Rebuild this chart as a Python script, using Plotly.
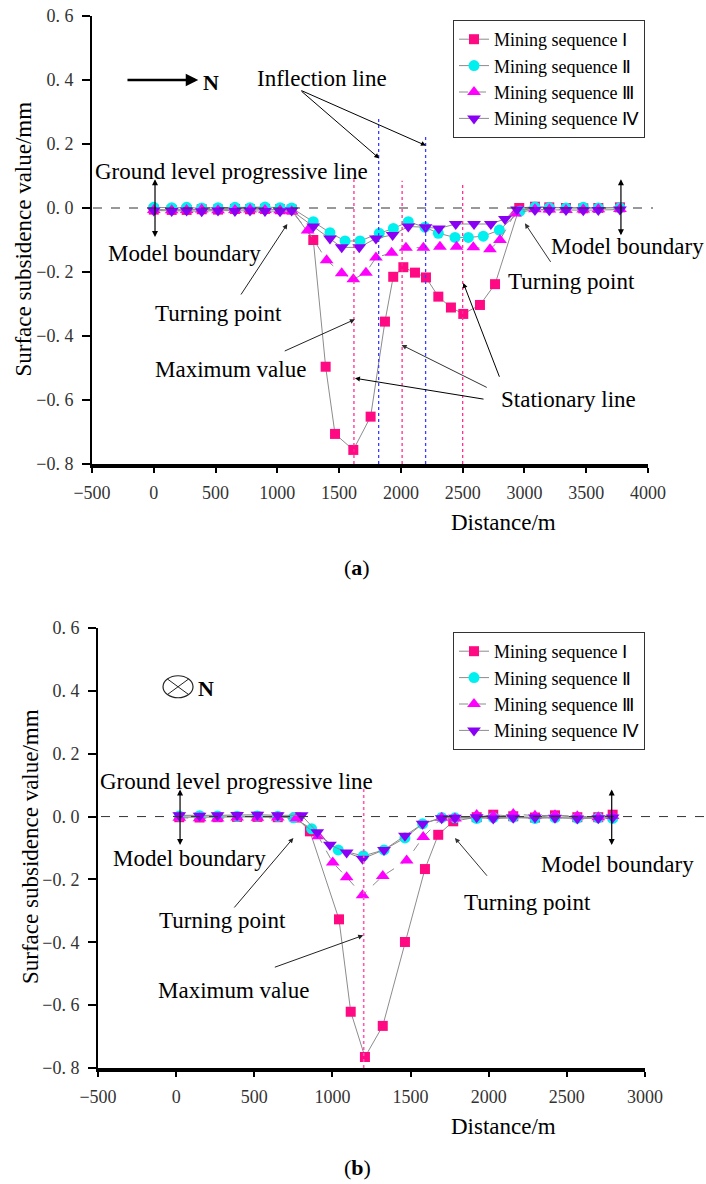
import plotly.graph_objects as go

FONT = "Liberation Serif, Times New Roman, Tinos, serif"
W, H = 706, 1184

# ---------------- data : chart (a) ----------------
series_names = ["Mining sequence \u2160", "Mining sequence \u2161",
                "Mining sequence \u2162", "Mining sequence \u2163"]

a_I_x = [0, 145, 266, 388, 520, 657, 779, 900, 1022, 1116, 1291, 1391, 1467, 1615, 1755, 1871,
         1938, 2020, 2114, 2203, 2303, 2405, 2505, 2640, 2762, 2958, 3085, 3201, 3336, 3476, 3598, 3773]
a_I_y = [-0.005, -0.006, -0.006, -0.004, -0.005, -0.003, -0.004, -0.003, -0.004, -0.005, -0.100, -0.496,
         -0.706, -0.756, -0.652, -0.355, -0.215, -0.185, -0.202, -0.217, -0.277, -0.311, -0.331, -0.303,
         -0.238, 0.000, 0.004, 0.002, 0.000, -0.001, 0.000, 0.002]

a_II_x = [0, 145, 266, 388, 520, 657, 779, 900, 1022, 1116, 1291, 1426, 1548, 1669, 1825, 1939, 2060,
          2195, 2303, 2438, 2546, 2667, 2797, 2964, 3085, 3201, 3336, 3476, 3598, 3773]
a_II_y = [0.002, 0.001, 0.002, 0.000, 0.001, 0.002, 0.001, 0.003, 0.001, 0.000, -0.043, -0.077, -0.103,
          -0.103, -0.079, -0.064, -0.043, -0.060, -0.079, -0.092, -0.092, -0.088, -0.069, -0.010, 0.003,
          0.001, 0.000, 0.002, 0.000, 0.001]

a_III_x = [0, 145, 266, 388, 520, 657, 779, 900, 1022, 1116, 1245, 1399, 1521, 1615, 1717, 1798, 1925,
           2041, 2182, 2316, 2451, 2586, 2721, 2802, 2923, 3085, 3201, 3336, 3476, 3598, 3773]
a_III_y = [-0.006, -0.007, -0.006, -0.005, -0.007, -0.006, -0.005, -0.006, -0.007, -0.010, -0.070, -0.163,
           -0.204, -0.223, -0.202, -0.155, -0.140, -0.124, -0.124, -0.121, -0.121, -0.123, -0.129, -0.100,
           -0.017, -0.004, -0.005, -0.006, -0.005, -0.004, -0.003]

a_IV_x = [0, 145, 266, 388, 520, 657, 779, 900, 1022, 1116, 1291, 1426, 1521, 1663, 1798, 1933, 2060,
          2200, 2307, 2444, 2592, 2728, 2842, 2940, 3085, 3201, 3336, 3476, 3598, 3773]
a_IV_y = [-0.008, -0.009, -0.008, -0.010, -0.008, -0.009, -0.008, -0.009, -0.010, -0.008, -0.058, -0.095,
          -0.123, -0.123, -0.095, -0.084, -0.058, -0.060, -0.064, -0.050, -0.050, -0.050, -0.034, -0.005,
          -0.006, -0.007, -0.006, -0.007, -0.006, -0.005]

a_stationary_x = [1620, 2010, 2500]
a_inflection_x = [1820, 2200]

# ---------------- data : chart (b) ----------------
b_I_x = [20, 150, 265, 390, 520, 650, 770, 856, 1042, 1117, 1208, 1322, 1464, 1592, 1677, 1773, 1923,
         2029, 2157, 2296, 2424, 2567, 2701, 2793]
b_I_y = [-0.002, -0.003, -0.002, -0.001, -0.001, -0.002, -0.003, -0.047, -0.327, -0.621, -0.765, -0.666,
         -0.399, -0.167, -0.058, -0.015, -0.002, 0.006, 0.001, -0.003, 0.004, -0.002, -0.002, 0.006]

b_II_x = [20, 150, 265, 390, 520, 650, 750, 867, 1037, 1198, 1330, 1464, 1577, 1699, 1784, 1923, 2029,
          2157, 2296, 2424, 2567, 2701, 2793]
b_II_y = [0.002, 0.003, 0.002, 0.001, 0.002, 0.001, -0.004, -0.039, -0.106, -0.125, -0.106, -0.068,
          -0.023, -0.003, -0.004, -0.006, -0.003, -0.002, -0.006, -0.003, -0.005, -0.004, -0.006]

b_III_x = [20, 150, 265, 390, 520, 650, 770, 910, 1002, 1091, 1193, 1322, 1475, 1581, 1699, 1784, 1923,
           2029, 2157, 2296, 2424, 2567, 2701, 2793]
b_III_y = [-0.004, -0.005, -0.006, -0.003, -0.004, -0.003, -0.005, -0.063, -0.146, -0.193, -0.250, -0.189,
           -0.140, -0.065, -0.004, -0.006, 0.005, 0.002, 0.008, 0.003, 0.004, 0.001, -0.002, 0.002]

b_IV_x = [20, 150, 265, 390, 520, 650, 803, 903, 984, 1091, 1193, 1330, 1464, 1577, 1699, 1784, 1923,
          2029, 2157, 2296, 2424, 2567, 2701, 2793]
b_IV_y = [0.004, 0.003, 0.004, 0.005, 0.006, 0.004, 0.004, -0.050, -0.090, -0.114, -0.134, -0.106,
          -0.061, -0.023, -0.005, -0.004, -0.002, -0.006, -0.004, -0.003, -0.004, -0.006, -0.005, -0.003]

b_stationary_x = [1200]

# ---------------- ticks ----------------
y_tickvals = [-0.8, -0.6, -0.4, -0.2, 0.0, 0.2, 0.4, 0.6]
y_ticktext = ["\u22120. 8", "\u22120. 6", "\u22120. 4", "\u22120. 2", "0. 0", "0. 2", "0. 4", "0. 6"]
a_x_tickvals = [-500, 0, 500, 1000, 1500, 2000, 2500, 3000, 3500, 4000]
a_x_ticktext = ["\u2212500", "0", "500", "1000", "1500", "2000", "2500", "3000", "3500", "4000"]
b_x_tickvals = [-500, 0, 500, 1000, 1500, 2000, 2500, 3000]
b_x_ticktext = ["\u2212500", "0", "500", "1000", "1500", "2000", "2500", "3000"]

# ---------------- styles ----------------
colors = ["#FF0A82", "#00F0F0", "#FF00FF", "#8A00F5"]
symbols = ["square", "circle", "triangle-up", "triangle-down"]
msizes = [10, 11, 12, 12]
dashes = ["solid", "solid", "dash", "solid"]

A_X = (92 / W, 648 / W)
A_Y = (1 - 464 / H, 1 - 16 / H)
B_X = (98 / W, 645 / W)
B_Y = (1 - 1068 / H, 1 - 628 / H)
YR = [-0.8, 0.6]

fig = go.Figure()

a_data = [(a_I_x, a_I_y), (a_II_x, a_II_y), (a_III_x, a_III_y), (a_IV_x, a_IV_y)]
b_data = [(b_I_x, b_I_y), (b_II_x, b_II_y), (b_III_x, b_III_y), (b_IV_x, b_IV_y)]

for i, (xs, ys) in enumerate(a_data):
    fig.add_trace(go.Scatter(
        x=xs, y=ys, mode="lines+markers", name=series_names[i],
        xaxis="x", yaxis="y", legend="legend", cliponaxis=False,
        line=dict(color="#8c8c8c", width=1, dash=dashes[i]),
        marker=dict(symbol=symbols[i], size=msizes[i], color=colors[i], line=dict(width=0))))

for i, (xs, ys) in enumerate(b_data):
    fig.add_trace(go.Scatter(
        x=xs, y=ys, mode="lines+markers", name=series_names[i],
        xaxis="x2", yaxis="y2", legend="legend2", cliponaxis=False,
        line=dict(color="#8c8c8c", width=1, dash=dashes[i]),
        marker=dict(symbol=symbols[i], size=msizes[i], color=colors[i], line=dict(width=0))))

axis_common = dict(showgrid=False, zeroline=False, showline=True, linecolor="black",
                   ticks="outside", tickcolor="black", automargin=False,
                   tickfont=dict(family=FONT, size=18, color="#333333"))


def xaxis(domain, rng, tv, tt, anchor):
    d = dict(axis_common)
    d.update(domain=list(domain), range=rng, tickvals=tv, ticktext=tt, anchor=anchor,
             linewidth=4, ticklen=5, tickwidth=2, ticklabelstandoff=4)
    return d


def yaxis(domain, anchor):
    d = dict(axis_common)
    d.update(domain=list(domain), range=YR, tickvals=y_tickvals, ticktext=y_ticktext, anchor=anchor,
             linewidth=2, ticklen=8, tickwidth=2, ticklabelstandoff=5)
    return d


def ypaper(val, dom):
    return dom[0] + (val - YR[0]) / (YR[1] - YR[0]) * (dom[1] - dom[0])


def txt(s, x, y, xr, yr, size=23, **kw):
    return dict(text=s, x=x, y=y, xref=xr, yref=yr, showarrow=False,
                xanchor="center", yanchor="middle",
                font=dict(family=FONT, size=size, color="black"), **kw)


def arr(x, y, ax, ay, xr, yr, color="black", width=1.0, head=2, size=1.0, side="end"):
    return dict(text="", x=x, y=y, ax=ax, ay=ay, xref=xr, yref=yr, axref=xr, ayref=yr,
                showarrow=True, arrowhead=head, startarrowhead=head, arrowsize=size,
                startarrowsize=size, arrowwidth=width, arrowcolor=color, arrowside=side)


annotations = [
    # ----- (a) -----
    arr(360, 0.4, -225, 0.4, "x", "y", width=2.5, size=1.0),
    txt("<b>N</b>", 467, 0.392, "x", "y", size=22),
    txt("Inflection line", 1364, 0.406, "x", "y"),
    arr(1825, 0.155, 1183, 0.369, "x", "y"),
    arr(2203, 0.195, 1183, 0.369, "x", "y"),
    txt("Ground level progressive line", 633, 0.1125, "x", "y"),
    arr(10, 0.09, 10, -0.095, "x", "y", width=1.2, side="end+start"),
    txt("Model boundary", 249, -0.141, "x", "y"),
    arr(1081, -0.05, 698, -0.275, "x", "y", color="#222222"),
    txt("Turning point", 522, -0.329, "x", "y"),
    txt("Maximum value", 617, -0.506, "x", "y"),
    arr(1628, -0.348, 1048, -0.449, "x", "y", color="#222222"),
    txt("Stationary line", 3359, -0.598, "x", "y"),
    arr(1628, -0.532, 2681, -0.598, "x", "y"),
    arr(2006, -0.428, 2707, -0.563, "x", "y", color="#333333"),
    arr(2505, -0.234, 2802, -0.532, "x", "y"),
    txt("Turning point", 3377, -0.23, "x", "y"),
    arr(3004, -0.048, 3220, -0.173, "x", "y", color="#333333"),
    arr(3781, 0.09, 3781, -0.09, "x", "y", width=1.2, side="end+start"),
    txt("Model boundary", 3830, -0.121, "x", "y"),
    txt("Distance/m", 504 / W, 1 - 522.7 / H, "paper", "paper"),
    txt("Surface subsidence value/mm", 22.5 / W, 1 - 239 / H, "paper", "paper", textangle=-90),
    txt("(<b>a</b>)", 357 / W, 1 - 567 / H, "paper", "paper", size=22),
    # ----- (b) -----
    txt("<b>N</b>", 191, 0.406, "x2", "y2", size=22),
    txt("Ground level progressive line", 383, 0.113, "x2", "y2"),
    arr(25, 0.086, 25, -0.095, "x2", "y2", width=1.2, side="end+start"),
    txt("Model boundary", 85, -0.132, "x2", "y2"),
    arr(750, -0.068, 364, -0.294, "x2", "y2", color="#222222"),
    txt("Turning point", 298, -0.33, "x2", "y2"),
    txt("Maximum value", 364, -0.554, "x2", "y2"),
    arr(1197, -0.378, 622, -0.481, "x2", "y2", color="#222222"),
    txt("Turning point", 2245, -0.274, "x2", "y2"),
    arr(1784, -0.068, 1997, -0.193, "x2", "y2", color="#333333"),
    arr(2787, 0.086, 2787, -0.095, "x2", "y2", width=1.2, side="end+start"),
    txt("Model boundary", 2821, -0.154, "x2", "y2"),
    txt("Distance/m", 503 / W, 1 - 1126 / H, "paper", "paper"),
    txt("Surface subsidence value/mm", 30 / W, 1 - 847 / H, "paper", "paper", textangle=-90),
    txt("(<b>b</b>)", 358 / W, 1 - 1167 / H, "paper", "paper", size=22),
]

shapes = [
    dict(type="line", xref="paper", yref="paper", x0=93 / W, x1=653 / W,
         y0=ypaper(0, A_Y), y1=ypaper(0, A_Y), line=dict(color="#333333", width=1, dash="dash")),
    dict(type="line", xref="paper", yref="paper", x0=101 / W, x1=1.0,
         y0=ypaper(0, B_Y), y1=ypaper(0, B_Y), line=dict(color="#333333", width=1, dash="dash")),
]
a_stat_tops = [0.09, 0.085, 0.072]
for xv, top in zip(a_stationary_x, a_stat_tops):
    shapes.append(dict(type="line", xref="x", yref="y", x0=xv, x1=xv, y0=-0.8, y1=top,
                       line=dict(color="#FF2E93", width=1.3, dash="dot")))
a_infl_tops = [0.285, 0.223]
for xv, top in zip(a_inflection_x, a_infl_tops):
    shapes.append(dict(type="line", xref="x", yref="y", x0=xv, x1=xv, y0=-0.8, y1=top,
                       line=dict(color="#3C3CFF", width=1.3, dash="dot")))
for xv in b_stationary_x:
    shapes.append(dict(type="line", xref="x2", yref="y2", x0=xv, x1=xv, y0=-0.8, y1=0.092,
                       line=dict(color="#FF5AAE", width=1.6, dash="dot")))

cx, cy, rx, ry = 12, 0.413, 96, 0.035
shapes.append(dict(type="circle", xref="x2", yref="y2", x0=cx - rx, x1=cx + rx, y0=cy - ry, y1=cy + ry,
                   line=dict(color="#222222", width=1.2)))
shapes.append(dict(type="line", xref="x2", yref="y2", x0=cx - 0.707 * rx, x1=cx + 0.707 * rx,
                   y0=cy - 0.707 * ry, y1=cy + 0.707 * ry, line=dict(color="#222222", width=1)))
shapes.append(dict(type="line", xref="x2", yref="y2", x0=cx - 0.707 * rx, x1=cx + 0.707 * rx,
                   y0=cy + 0.707 * ry, y1=cy - 0.707 * ry, line=dict(color="#222222", width=1)))

legend_style = dict(xanchor="left", yanchor="top", bordercolor="#333333", borderwidth=1,
                    bgcolor="white", font=dict(family=FONT, size=18, color="black"),
                    tracegroupgap=0)

fig.update_layout(
    width=W, height=H, margin=dict(l=0, r=0, t=0, b=0),
    paper_bgcolor="white", plot_bgcolor="white",
    font=dict(family=FONT, color="black"),
    xaxis=xaxis(A_X, [-500, 4000], a_x_tickvals, a_x_ticktext, "y"),
    yaxis=yaxis(A_Y, "x"),
    xaxis2=xaxis(B_X, [-500, 3000], b_x_tickvals, b_x_ticktext, "y2"),
    yaxis2=yaxis(B_Y, "x2"),
    legend=dict(x=453 / W, y=1 - 20 / H, **legend_style),
    legend2=dict(x=453 / W, y=1 - 632 / H, **legend_style),
    annotations=annotations,
    shapes=shapes,
    showlegend=True,
)

fig.write_html("out.html")
